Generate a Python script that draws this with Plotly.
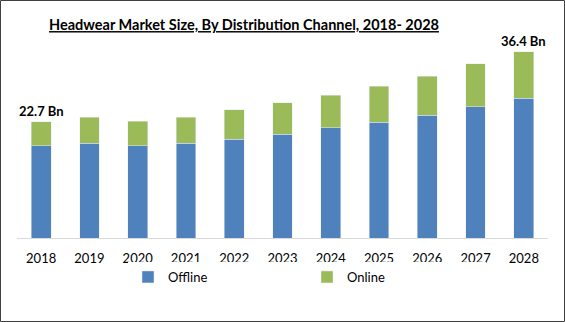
import plotly.graph_objects as go

years = ["2018", "2019", "2020", "2021", "2022", "2023", "2024", "2025", "2026", "2027", "2028"]
offline = [18.0, 18.5, 18.0, 18.5, 19.3, 20.3, 21.5, 22.6, 24.0, 25.6, 27.3]
online = [4.7, 5.1, 4.8, 5.1, 5.7, 6.1, 6.4, 7.0, 7.6, 8.4, 9.1]
label_2018 = "22.7 Bn"
label_2028 = "36.4 Bn"

FONT = "Lato"
W, H = 565, 322
ml, mr, mt, mb = 17, 17, 40, 84
pw, ph = W - ml - mr, H - mt - mb

fig = go.Figure()
fig.add_trace(go.Bar(x=years, y=offline, name="Offline", marker_color="#4F81BD"))
fig.add_trace(go.Bar(x=years, y=online, name="Online", marker_color="#9BBB59"))

totals = [a + b for a, b in zip(offline, online)]
fig.add_annotation(x=0, y=totals[0], text="<b>" + label_2018 + "</b>", showarrow=False,
                   yanchor="bottom", yshift=1, font=dict(family=FONT, size=13, color="#000"))
fig.add_annotation(x=len(years) - 1, y=totals[-1], text="<b>" + label_2028 + "</b>", showarrow=False,
                   yanchor="bottom", yshift=1, font=dict(family=FONT, size=13, color="#000"))

# outer border
fig.add_shape(type="rect", xref="paper", yref="paper",
              x0=(0.5 - ml) / pw, x1=(W - 0.5 - ml) / pw,
              y0=-(mb - 0.5) / ph, y1=1 + (mt - 0.5) / ph,
              line=dict(color="#404040", width=1))

fig.update_layout(
    width=W, height=H,
    margin=dict(l=ml, r=mr, t=mt, b=mb),
    barmode="stack",
    bargap=0.59,
    plot_bgcolor="white", paper_bgcolor="white",
    title=dict(text="<b><u>Headwear Market Size, By Distribution Channel, 2018- 2028</u></b>",
               x=(52 + 436) / 2 / W, xanchor="center", y=1 - 25 / H, yanchor="middle",
               font=dict(family=FONT, size=14.5, color="#000")),
    xaxis=dict(type="category", range=[-0.5, len(years) - 0.5], autorange=False,
               showline=True, linecolor="#D9D9D9", linewidth=1, ticks="", showgrid=False,
               ticklabelstandoff=8,
               tickfont=dict(family=FONT, size=13, color="#000")),
    yaxis=dict(visible=False, range=[0, ph * 0.1952], autorange=False),
    legend=dict(orientation="h", x=(128 - ml) / pw, xanchor="left", y=-(277 - 238) / ph, yanchor="middle",
                font=dict(family=FONT, size=13, color="#000"), entrywidth=134, entrywidthmode="pixels",
                itemwidth=30, traceorder="normal"),
)

fig.write_html("out.html")
